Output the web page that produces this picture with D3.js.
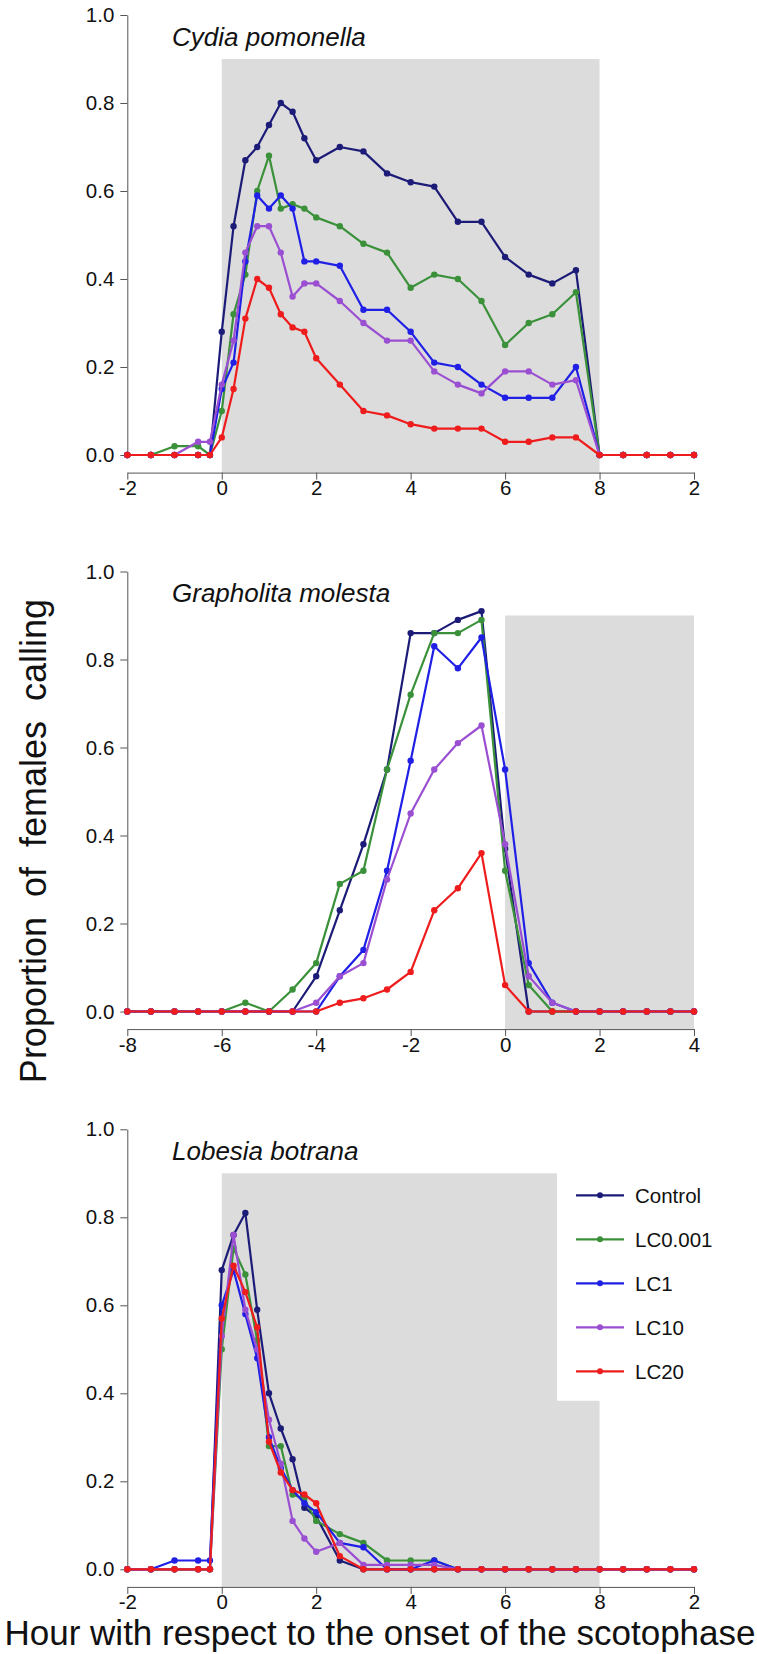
<!DOCTYPE html>
<html>
<head>
<meta charset="utf-8">
<script src="https://cdnjs.cloudflare.com/ajax/libs/d3/7.8.5/d3.min.js"></script>
<style>
  body { margin: 0; background: #fff; }
  svg { display: block; font-family: "Liberation Sans", Arial, sans-serif; }
  .axis path, .axis line { stroke: #555; stroke-width: 1; }
  .axis text { fill: #111; font-size: 20.5px; font-family: "Liberation Sans", Arial, sans-serif; }
</style>
</head>
<body>
<svg id="chart" width="757" height="1654"></svg>
<script>
// treatment groups and their colours
var groups = ["Control", "LC0.001", "LC1", "LC10", "LC20"];
var colors = ["#1c1c78", "#3a913a", "#1f1fe6", "#9a4fd2", "#ee1c1c"];

// sampling hours (relative to onset of scotophase)
var hoursCydia = [-2, -1.5, -1, -0.5, -0.25, 0, 0.25, 0.5, 0.75, 1, 1.25, 1.5, 1.75, 2, 2.5, 3, 3.5, 4, 4.5, 5, 5.5, 6, 6.5, 7, 7.5, 8, 8.5, 9, 9.5, 10];
var hoursGrapho = [-8, -7.5, -7, -6.5, -6, -5.5, -5, -4.5, -4, -3.5, -3, -2.5, -2, -1.5, -1, -0.5, 0, 0.5, 1, 1.5, 2, 2.5, 3, 3.5, 4];
var hoursLobesia = [-2, -1.5, -1, -0.5, -0.25, 0, 0.25, 0.5, 0.75, 1, 1.25, 1.5, 1.75, 2, 2.5, 3, 3.5, 4, 4.5, 5, 5.5, 6, 6.5, 7, 7.5, 8, 8.5, 9, 9.5, 10];

// Cydia pomonella
var cydiaControl = [0, 0, 0, 0, 0, 0.28, 0.52, 0.67, 0.70, 0.75, 0.80, 0.78, 0.72, 0.67, 0.70, 0.69, 0.64, 0.62, 0.61, 0.53, 0.53, 0.45, 0.41, 0.39, 0.42, 0, 0, 0, 0, 0];
var cydiaLC0001 = [0, 0, 0.02, 0.02, 0, 0.10, 0.32, 0.41, 0.60, 0.68, 0.56, 0.57, 0.56, 0.54, 0.52, 0.48, 0.46, 0.38, 0.41, 0.40, 0.35, 0.25, 0.30, 0.32, 0.37, 0, 0, 0, 0, 0];
var cydiaLC1 = [0, 0, 0, 0, 0, 0.15, 0.21, 0.44, 0.59, 0.56, 0.59, 0.56, 0.44, 0.44, 0.43, 0.33, 0.33, 0.28, 0.21, 0.20, 0.16, 0.13, 0.13, 0.13, 0.20, 0, 0, 0, 0, 0];
var cydiaLC10 = [0, 0, 0, 0.03, 0.03, 0.16, 0.26, 0.46, 0.52, 0.52, 0.46, 0.36, 0.39, 0.39, 0.35, 0.30, 0.26, 0.26, 0.19, 0.16, 0.14, 0.19, 0.19, 0.16, 0.17, 0, 0, 0, 0, 0];
var cydiaLC20 = [0, 0, 0, 0, 0, 0.04, 0.15, 0.31, 0.40, 0.38, 0.32, 0.29, 0.28, 0.22, 0.16, 0.10, 0.09, 0.07, 0.06, 0.06, 0.06, 0.03, 0.03, 0.04, 0.04, 0, 0, 0, 0, 0];

// Grapholita molesta
var graphoControl = [0, 0, 0, 0, 0, 0, 0, 0, 0.08, 0.23, 0.38, 0.55, 0.86, 0.86, 0.89, 0.91, 0.37, 0, 0, 0, 0, 0, 0, 0, 0];
var graphoLC0001 = [0, 0, 0, 0, 0, 0.02, 0, 0.05, 0.11, 0.29, 0.32, 0.55, 0.72, 0.86, 0.86, 0.89, 0.32, 0.06, 0, 0, 0, 0, 0, 0, 0];
var graphoLC1 = [0, 0, 0, 0, 0, 0, 0, 0, 0, 0.08, 0.14, 0.32, 0.57, 0.83, 0.78, 0.85, 0.55, 0.11, 0.02, 0, 0, 0, 0, 0, 0];
var graphoLC10 = [0, 0, 0, 0, 0, 0, 0, 0, 0.02, 0.08, 0.11, 0.30, 0.45, 0.55, 0.61, 0.65, 0.38, 0.08, 0.02, 0, 0, 0, 0, 0, 0];
var graphoLC20 = [0, 0, 0, 0, 0, 0, 0, 0, 0, 0.02, 0.03, 0.05, 0.09, 0.23, 0.28, 0.36, 0.06, 0, 0, 0, 0, 0, 0, 0, 0];

// Lobesia botrana
var lobesiaControl = [0, 0, 0, 0, 0, 0.68, 0.76, 0.81, 0.59, 0.40, 0.32, 0.25, 0.14, 0.12, 0.02, 0, 0, 0, 0, 0, 0, 0, 0, 0, 0, 0, 0, 0, 0, 0];
var lobesiaLC0001 = [0, 0, 0, 0, 0, 0.50, 0.73, 0.67, 0.52, 0.28, 0.28, 0.17, 0.16, 0.11, 0.08, 0.06, 0.02, 0.02, 0.02, 0, 0, 0, 0, 0, 0, 0, 0, 0, 0, 0];
var lobesiaLC1 = [0, 0, 0.02, 0.02, 0.02, 0.60, 0.68, 0.58, 0.48, 0.30, 0.23, 0.18, 0.15, 0.13, 0.06, 0.05, 0, 0, 0.02, 0, 0, 0, 0, 0, 0, 0, 0, 0, 0, 0];
var lobesiaLC10 = [0, 0, 0, 0, 0, 0.53, 0.76, 0.59, 0.50, 0.34, 0.24, 0.11, 0.07, 0.04, 0.06, 0.01, 0.01, 0.01, 0.01, 0, 0, 0, 0, 0, 0, 0, 0, 0, 0, 0];
var lobesiaLC20 = [0, 0, 0, 0, 0, 0.57, 0.69, 0.63, 0.55, 0.29, 0.22, 0.18, 0.17, 0.15, 0.03, 0, 0, 0, 0, 0, 0, 0, 0, 0, 0, 0, 0, 0, 0, 0];

// axis ticks
var yTicks = [0, 0.2, 0.4, 0.6, 0.8, 1.0];
var xTicksDay = [-2, 0, 2, 4, 6, 8, 10];
var xLabelsDay = ["-2", "0", "2", "4", "6", "8", "2"];
var xTicksGrapho = [-8, -6, -4, -2, 0, 2, 4];
var xLabelsGrapho = ["-8", "-6", "-4", "-2", "0", "2", "4"];

var panels = [
  { title: "Cydia pomonella", hours: hoursCydia, xDomain: [-2, 10], xTicks: xTicksDay, xLabels: xLabelsDay,
    dark: [0, 8], series: [cydiaControl, cydiaLC0001, cydiaLC1, cydiaLC10, cydiaLC20] },
  { title: "Grapholita molesta", hours: hoursGrapho, xDomain: [-8, 4], xTicks: xTicksGrapho, xLabels: xLabelsGrapho,
    dark: [0, 4], series: [graphoControl, graphoLC0001, graphoLC1, graphoLC10, graphoLC20] },
  { title: "Lobesia botrana", hours: hoursLobesia, xDomain: [-2, 10], xTicks: xTicksDay, xLabels: xLabelsDay,
    dark: [0, 8], series: [lobesiaControl, lobesiaLC0001, lobesiaLC1, lobesiaLC10, lobesiaLC20], legend: true }
];

var svg = d3.select("#chart");
var left = 127.3, right = 694;
var tops = [15, 571.5, 1129.3];
var plotH = 440;

panels.forEach(function (p, k) {
  var g = svg.append("g");
  var x = d3.scaleLinear().domain(p.xDomain).range([left, right]);
  var y = d3.scaleLinear().domain([0, 1]).range([tops[k] + plotH, tops[k]]);

  // scotophase shading
  if (p.legend) {
    // legend area is left white
    g.append("rect")
      .attr("x", x(p.dark[0])).attr("y", y(0.9))
      .attr("width", x(7.1) - x(p.dark[0])).attr("height", y(-0.04) - y(0.9))
      .attr("fill", "#dcdcdc");
    g.append("rect")
      .attr("x", x(7.1)).attr("y", y(0.383))
      .attr("width", x(p.dark[1]) - x(7.1)).attr("height", y(-0.04) - y(0.383))
      .attr("fill", "#dcdcdc");
  } else {
    g.append("rect")
      .attr("x", x(p.dark[0])).attr("y", y(0.9))
      .attr("width", x(p.dark[1]) - x(p.dark[0])).attr("height", y(-0.04) - y(0.9))
      .attr("fill", "#dcdcdc");
  }

  // axes
  g.append("g").attr("class", "axis")
    .attr("transform", "translate(" + left + ",0)")
    .call(d3.axisLeft(y).tickValues(yTicks).tickFormat(d3.format(".1f")).tickSize(7).tickSizeOuter(0).tickPadding(6));

  g.append("g").attr("class", "axis")
    .attr("transform", "translate(0," + y(-0.04) + ")")
    .call(d3.axisBottom(x).tickValues(p.xTicks).tickFormat(function (d, i) { return p.xLabels[i]; })
      .tickSize(7).tickSizeOuter(0).tickPadding(1));

  // series
  var line = d3.line()
    .x(function (d, i) { return x(p.hours[i]); })
    .y(function (d) { return y(d); });

  p.series.forEach(function (vals, s) {
    g.append("path")
      .datum(vals)
      .attr("d", line)
      .attr("fill", "none")
      .attr("stroke", colors[s])
      .attr("stroke-width", 2.2)
      .attr("stroke-linejoin", "round");
    g.selectAll("circle.s" + s)
      .data(vals)
      .enter().append("circle")
      .attr("class", "s" + s)
      .attr("cx", function (d, i) { return x(p.hours[i]); })
      .attr("cy", function (d) { return y(d); })
      .attr("r", 3.2)
      .attr("fill", colors[s]);
  });

  // species name
  g.append("text")
    .attr("x", 172)
    .attr("y", y(0.93))
    .attr("font-size", 26)
    .attr("font-style", "italic")
    .attr("fill", "#111")
    .text(p.title);

  if (p.legend) {
    var lg = g.append("g");
    groups.forEach(function (name, s) {
      var ly = y(0.85 - s * 0.1);
      lg.append("line")
        .attr("x1", 576).attr("x2", 624).attr("y1", ly).attr("y2", ly)
        .attr("stroke", colors[s]).attr("stroke-width", 2.2);
      lg.append("circle")
        .attr("cx", 600).attr("cy", ly).attr("r", 3)
        .attr("fill", colors[s]);
      lg.append("text")
        .attr("x", 635).attr("y", ly + 7.5)
        .attr("font-size", 20.5)
        .attr("fill", "#111")
        .text(name);
    });
  }
});

// axis titles
svg.append("text")
  .attr("transform", "translate(46,841) rotate(-90)")
  .attr("text-anchor", "middle")
  .attr("font-size", 36)
  .attr("fill", "#111")
  .style("white-space", "pre")
  .text("Proportion  of  females  calling");

svg.append("text")
  .attr("x", 380)
  .attr("y", 1645)
  .attr("text-anchor", "middle")
  .attr("font-size", 35)
  .attr("fill", "#111")
  .text("Hour with respect to the onset of the scotophase");
</script>
</body>
</html>
